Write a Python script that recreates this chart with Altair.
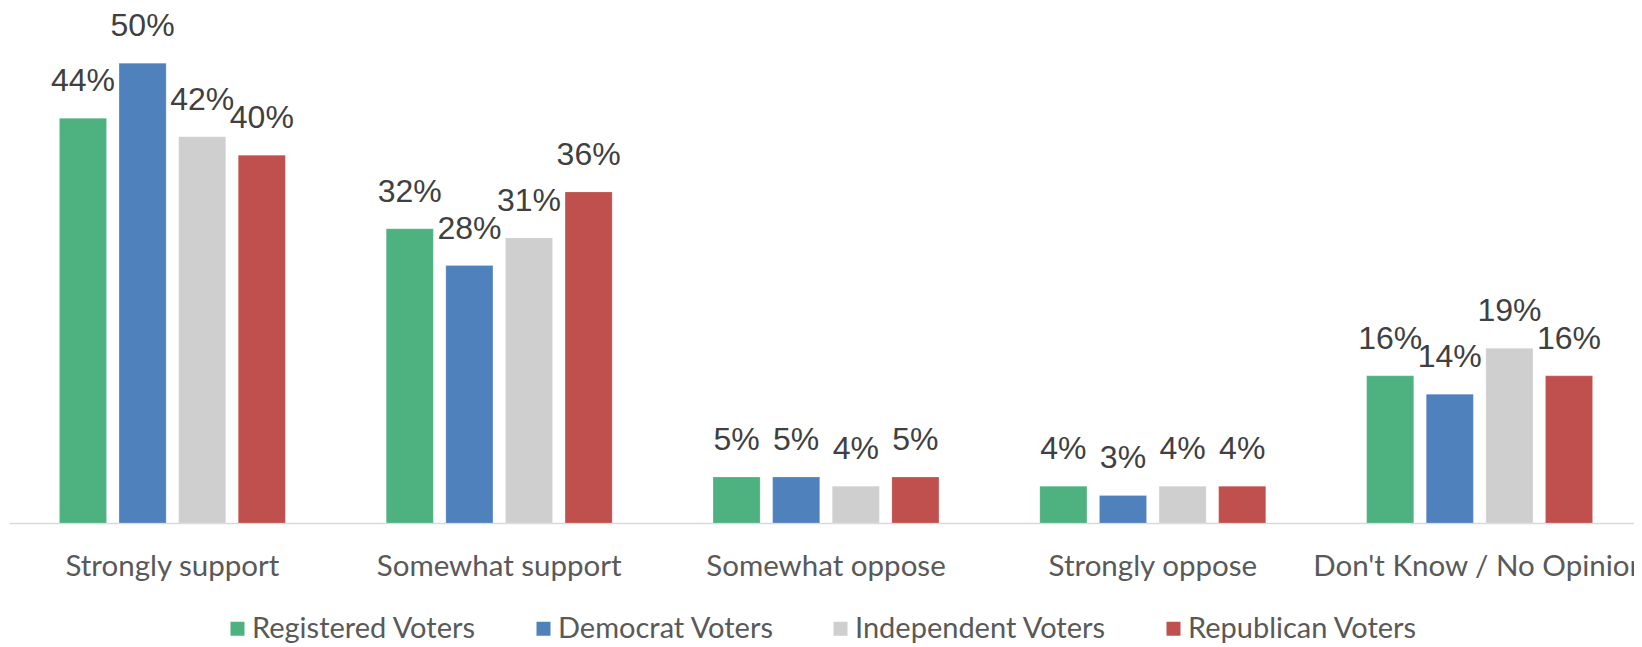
import altair as alt
import pandas as pd

categories = ["Strongly support", "Somewhat support", "Somewhat oppose", "Strongly oppose", "Don't Know / No Opinion"]
series = ["Registered Voters", "Democrat Voters", "Independent Voters", "Republican Voters"]
colors = ["#4EB180", "#4F81BD", "#CFCFCF", "#C0504D"]
registered = [44, 32, 5, 4, 16]
democrat = [50, 28, 5, 3, 14]
independent = [42, 31, 4, 4, 19]
republican = [40, 36, 5, 4, 16]

rows = []
for s, vals in zip(series, [registered, democrat, independent, republican]):
    for c, v in zip(categories, vals):
        rows.append({"category": c, "series": s, "value": v, "label": f"{v}%"})
df = pd.DataFrame(rows)

x = alt.X("category:N", sort=categories, title=None,
          scale=alt.Scale(range=[0, 1634], paddingInner=0, paddingOuter=0),
          axis=alt.Axis(labelAngle=0, ticks=False, tickSize=0, labelPadding=52,
                        labelBaseline="alphabetic", labelFont="Lato", labelFontSize=29.5,
                        labelColor="#595959", domainColor="#D9D9D9", domainWidth=1.5,
                        grid=False, labelLimit=0))
xo = alt.XOffset("series:N", sort=series,
                 scale=alt.Scale(paddingInner=0.21, paddingOuter=0.846))
y = alt.Y("value:Q", scale=alt.Scale(domain=[0, 56], nice=False), axis=None)

bars = alt.Chart(df).mark_bar(stroke="white", strokeWidth=0.5, strokeOpacity=0.4).encode(
    x=x, xOffset=xo, y=y,
    color=alt.Color("series:N", sort=series,
                    scale=alt.Scale(domain=series, range=colors),
                    legend=alt.Legend(title=None, orient="none", legendX=214, legendY=606,
                                      direction="horizontal", symbolType="square",
                                      symbolSize=196, symbolStrokeWidth=0,
                                      labelFont="Lato", labelFontSize=29,
                                      labelColor="#595959", labelOffset=0,
                                      columnPadding=52, padding=0, labelLimit=0))
)

labels = alt.Chart(df).mark_text(font="Liberation Sans", fontSize=32, color="#404040",
                                  baseline="alphabetic", align="center", dy=-27).encode(
    x=x, xOffset=xo, y=y, text="label:N"
)

chart = (bars + labels).properties(
    width=1625, height=515,
    autosize=alt.AutoSizeParams(type="none"),
    padding={"left": 1, "top": 0, "right": 0, "bottom": 124},
).configure_view(stroke=None)

chart.save("out.html", embed_options={"renderer": "svg", "actions": False})
